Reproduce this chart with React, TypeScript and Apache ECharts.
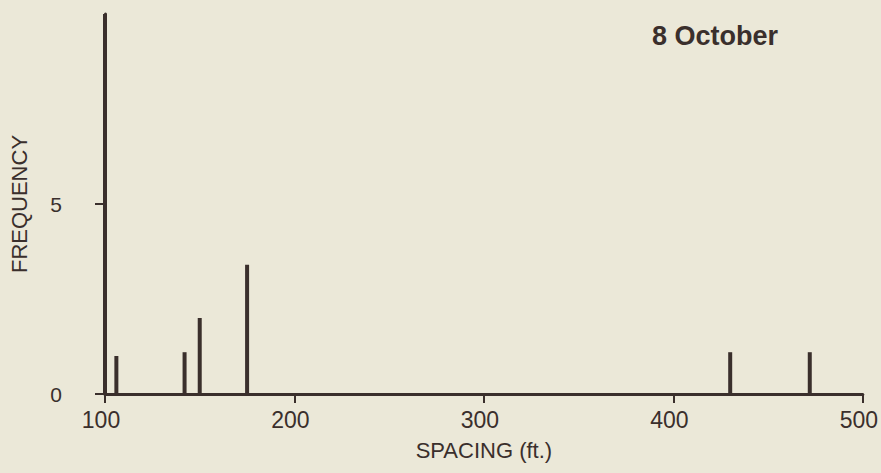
import React, { useEffect, useRef } from "react";
import * as echarts from "echarts";

const spacing = [100, 106, 142, 150, 175, 430, 472];
const frequency = [10, 1.0, 1.1, 2.0, 3.4, 1.1, 1.1];
const xTicks = [100, 200, 300, 400, 500];
const yTicks = [0, 5];
const title = "8 October";
const xName = "SPACING (ft.)";
const yName = "FREQUENCY";

const INK = "#3a2f2c";
const BG = "#ebe8d8";
const FONT = "'Liberation Sans', Arial, Helvetica, sans-serif";

export default function App() {
  const ref = useRef<HTMLDivElement>(null);
  useEffect(() => {
    if (!ref.current) return;
    const chart = echarts.init(ref.current, undefined, { renderer: "svg" });
    chart.setOption({
      animation: false,
      backgroundColor: BG,
      grid: { left: 102, right: 18, top: 14, bottom: 79, containLabel: false },
      graphic: [
        {
          type: "text",
          left: 652,
          top: 22,
          style: { text: title, font: `bold 27px ${FONT}`, fill: INK },
        },
      ],
      xAxis: {
        type: "value",
        min: 100,
        max: 500,
        interval: 100,
        name: xName,
        nameLocation: "middle",
        nameGap: 45,
        nameTextStyle: { color: INK, fontSize: 22, fontFamily: FONT },
        axisLine: { show: true, onZero: false, lineStyle: { color: INK, width: 3 } },
        axisTick: { show: true, length: 9, lineStyle: { color: INK, width: 2 }, customValues: xTicks },
        axisLabel: {
          color: INK,
          fontSize: 23,
          fontFamily: FONT,
          margin: 14,
          padding: [0, 8, 0, 0],
          customValues: xTicks,
        },
        splitLine: { show: false },
      },
      yAxis: {
        type: "value",
        min: 0,
        max: 10,
        interval: 5,
        name: yName,
        nameLocation: "middle",
        nameGap: 75,
        nameTextStyle: { color: INK, fontSize: 22, fontFamily: FONT },
        axisLine: { show: true, lineStyle: { color: INK, width: 3 } },
        axisTick: { show: true, length: 10, lineStyle: { color: INK, width: 2 }, customValues: yTicks },
        axisLabel: { color: INK, fontSize: 21, fontFamily: FONT, margin: 43, customValues: yTicks },
        splitLine: { show: false },
      },
      series: [
        {
          type: "custom",
          data: spacing.map((x, i) => [x, frequency[i]]),
          encode: { x: 0, y: 1 },
          renderItem: (params: any, api: any) => {
            const base = api.coord([api.value(0), 0]);
            const top = api.coord([api.value(0), api.value(1)]);
            const w = 4;
            return {
              type: "rect",
              shape: { x: top[0] - w / 2, y: top[1], width: w, height: base[1] - top[1] },
              style: { fill: INK },
            };
          },
        },
      ],
    });
    return () => chart.dispose();
  }, []);
  return (
    <div
      ref={ref}
      style={{ position: "fixed", left: 0, top: 0, width: 881, height: 473 }}
    />
  );
}
